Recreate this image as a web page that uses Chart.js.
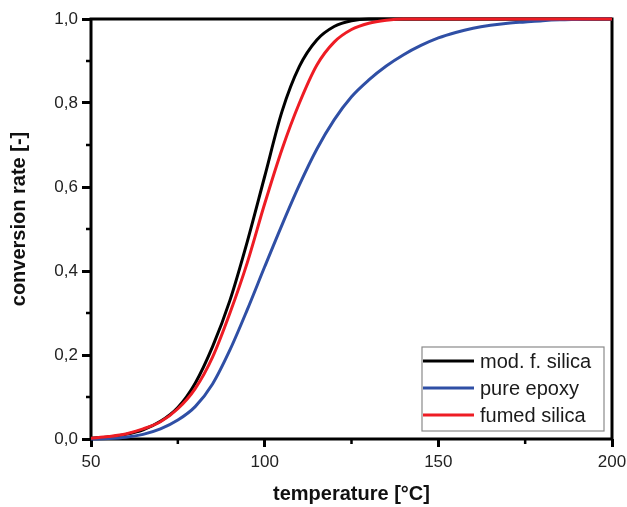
<!DOCTYPE html>
<html>
<head>
<meta charset="utf-8">
<script src="https://cdn.jsdelivr.net/npm/chart.js@4/dist/chart.umd.min.js"></script>
<style>
  html, body { margin: 0; padding: 0; background: #fff; }
  #wrap { width: 627px; height: 507px; position: relative; }
</style>
</head>
<body>
<div id="wrap"><canvas id="c" width="627" height="507"></canvas></div>
<script>
// Temperatures [°C]
const temps = [50,55,60,65,70,75,80,85,90,95,100,105,110,115,120,125,130,135,140,145,150,155,160,165,170,175,180,185,190,195,200];
// conversion rate series
const modSilica = [0.002,0.005,0.011,0.022,0.042,0.075,0.133,0.22,0.33,0.47,0.625,0.78,0.887,0.95,0.982,0.996,1.0,1.0,1.0,1.0,1.0,1.0,1.0,1.0,1.0,1.0,1.0,1.0,1.0,1.0,1.0];
const pureEpoxy = [0.0,0.001,0.004,0.011,0.024,0.045,0.077,0.131,0.212,0.308,0.41,0.51,0.605,0.69,0.76,0.815,0.855,0.888,0.915,0.937,0.955,0.968,0.978,0.985,0.99,0.993,0.996,0.998,0.999,1.0,1.0];
const fumedSilica = [0.002,0.006,0.012,0.024,0.041,0.072,0.12,0.195,0.30,0.42,0.56,0.69,0.80,0.89,0.945,0.975,0.99,0.997,1.0,1.0,1.0,1.0,1.0,1.0,1.0,1.0,1.0,1.0,1.0,1.0,1.0];
const seriesNames = ['mod. f. silica', 'pure epoxy', 'fumed silica'];
const xMajorTicks = [50, 100, 150, 200];
const xMinorTicks = [75, 125, 175];
const yMinorTicks = [0.1, 0.3, 0.5, 0.7, 0.9];
const xTitle = 'temperature [°C]';
const yTitle = 'conversion rate [-]';

const colors = ['#000000', '#2f4fa5', '#ee1c24'];
const toPts = arr => arr.map((v, i) => ({x: temps[i], y: v}));
const FONT = '"Liberation Sans", Arial, sans-serif';

const framePlugin = {
  id: 'frame',
  beforeDatasetsDraw(chart) {
    const {ctx, chartArea: a} = chart;
    const xs = chart.scales.x, ys = chart.scales.y;
    ctx.save();
    ctx.strokeStyle = '#000';
    ctx.lineWidth = 3;
    ctx.strokeRect(a.left, a.top, a.right - a.left, a.bottom - a.top);
    ctx.lineWidth = 2.5;
    ctx.beginPath();
    xMinorTicks.forEach(v => {
      const px = xs.getPixelForValue(v);
      ctx.moveTo(px, a.bottom); ctx.lineTo(px, a.bottom + 5);
    });
    yMinorTicks.forEach(v => {
      const py = ys.getPixelForValue(v);
      ctx.moveTo(a.left, py); ctx.lineTo(a.left - 5, py);
    });
    ctx.stroke();
    ctx.restore();
  },
  afterDraw(chart) {
    const {ctx, chartArea: a} = chart;
    // y-axis title
    ctx.save();
    ctx.font = 'bold 20px ' + FONT;
    ctx.fillStyle = '#111';
    ctx.textAlign = 'center';
    ctx.textBaseline = 'middle';
    ctx.translate(19, (a.top + a.bottom) / 2 - 10);
    ctx.rotate(-Math.PI / 2);
    ctx.fillText(yTitle, 0, 0);
    ctx.restore();
    // legend
    const w = 182, h = 84;
    const x0 = a.right - 8 - w, y0 = a.bottom - 8 - h;
    ctx.save();
    ctx.fillStyle = '#fff';
    ctx.fillRect(x0, y0, w, h);
    ctx.strokeStyle = '#8a8a8a';
    ctx.lineWidth = 1.2;
    ctx.strokeRect(x0, y0, w, h);
    ctx.font = '20px ' + FONT;
    ctx.textBaseline = 'middle';
    ctx.fillStyle = '#1a1a1a';
    chart.data.datasets.forEach((ds, i) => {
      const cy = y0 + 14 + i * 27;
      ctx.strokeStyle = ds.borderColor;
      ctx.lineWidth = 3;
      ctx.beginPath();
      ctx.moveTo(x0 + 1, cy); ctx.lineTo(x0 + 52, cy);
      ctx.stroke();
      ctx.fillText(ds.label, x0 + 58, cy + 1);
    });
    ctx.restore();
  }
};

new Chart(document.getElementById('c'), {
  type: 'line',
  data: {
    datasets: [
      {label: seriesNames[0], data: toPts(modSilica), borderColor: colors[0], order: 2},
      {label: seriesNames[1], data: toPts(pureEpoxy), borderColor: colors[1], order: 1},
      {label: seriesNames[2], data: toPts(fumedSilica), borderColor: colors[2], order: 0}
    ]
  },
  options: {
    responsive: false,
    animation: false,
    devicePixelRatio: 1,
    layout: {padding: {top: 19, right: 15, left: 0, bottom: 0}},
    elements: {
      line: {borderWidth: 3, cubicInterpolationMode: 'monotone', fill: false},
      point: {radius: 0}
    },
    clip: false,
    plugins: {legend: {display: false}, tooltip: {enabled: false}},
    scales: {
      x: {
        type: 'linear', min: 50, max: 200,
        afterBuildTicks: s => { s.ticks = xMajorTicks.map(v => ({value: v})); },
        afterFit: s => { s.height = 68; s.paddingLeft = 0; s.paddingRight = 0; },
        grid: {drawOnChartArea: false, drawTicks: true, tickLength: 8, tickWidth: 3, tickColor: '#000', color: '#000'},
        border: {display: false},
        ticks: {padding: 5, color: '#222', font: {family: FONT, size: 17}},
        title: {display: true, text: xTitle, color: '#111', padding: {top: 0, bottom: 1},
                font: {family: FONT, size: 20, weight: 'bold'}}
      },
      y: {
        type: 'linear', min: 0, max: 1,
        ticks: {stepSize: 0.2, padding: 4, color: '#222',
                font: {family: FONT, size: 17},
                callback: v => Number(v).toFixed(1).replace('.', ',')},
        afterFit: s => { s.width = 91; s.paddingTop = 0; s.paddingBottom = 0; },
        grid: {drawOnChartArea: false, drawTicks: true, tickLength: 9, tickWidth: 3, tickColor: '#000', color: '#000'},
        border: {display: false},
        title: {display: false}
      }
    }
  },
  plugins: [framePlugin]
});
</script>
</body>
</html>
